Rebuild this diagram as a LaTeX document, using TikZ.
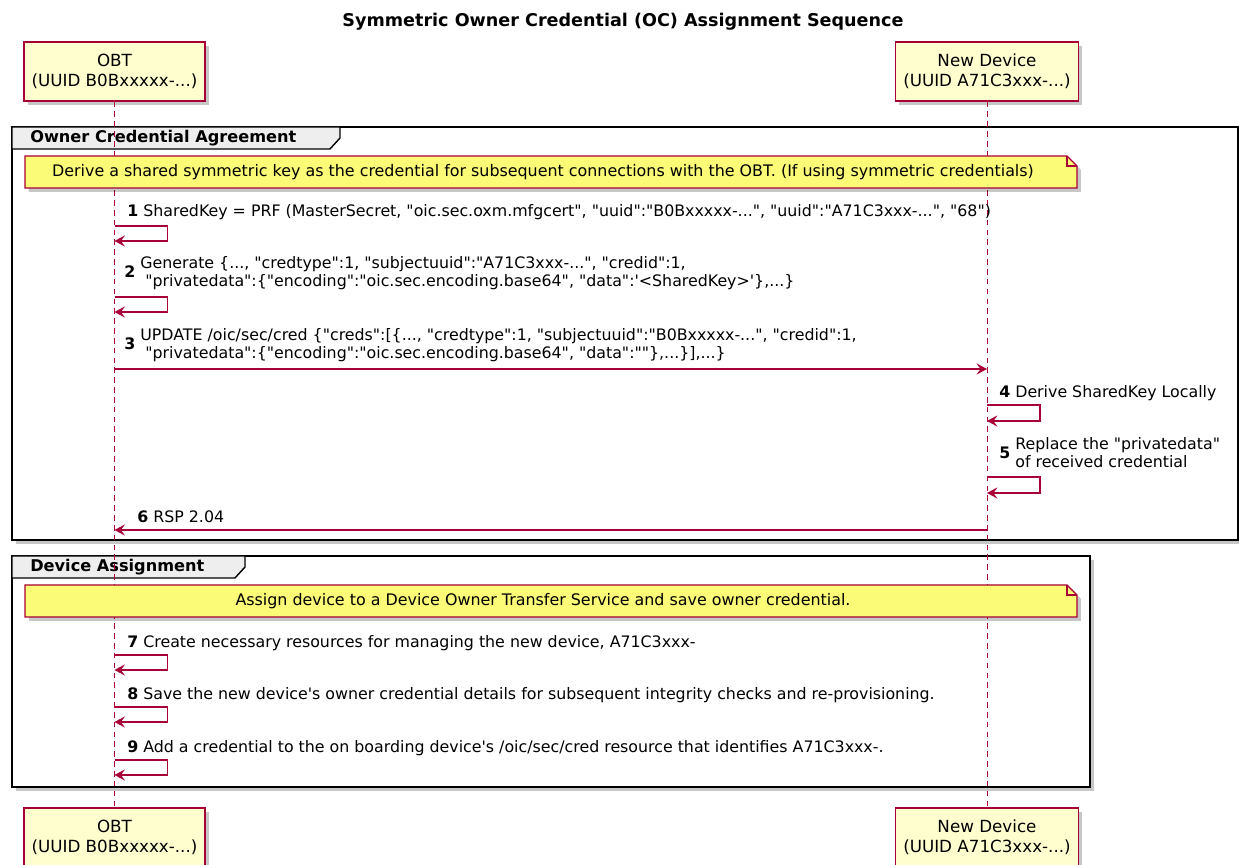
\documentclass[tikz,border=0pt]{standalone}
\usepackage{fontspec}
\setmainfont{DejaVu Sans}[Ligatures=TeXOff]
\usetikzlibrary{arrows.meta,shadows,positioning}

\definecolor{umlred}{HTML}{A80036}
\definecolor{partfill}{HTML}{FEFECE}
\definecolor{notefill}{HTML}{FBFB77}
\definecolor{tabfill}{HTML}{EEEEEE}

\tikzset{
  umlshadow/.style={drop shadow={shadow xshift=2.8pt,shadow yshift=-2.8pt,fill=black,opacity=0.22}},
  participant/.style={draw=umlred, fill=partfill, line width=0.9pt, minimum height=1.475cm,
    align=center, inner sep=0pt, font=\fontsize{11.9}{14.2}\selectfont, umlshadow},
  lifeline/.style={umlred, line width=0.7pt, dash pattern=on 4pt off 3pt},
  msg/.style={umlred, line width=0.8pt, -{Stealth[length=7.5pt,width=8pt,inset=3pt]}},
  msgtext/.style={anchor=west, inner sep=0pt, align=left, font=\fontsize{11.25}{12.8}\selectfont},
  frame/.style={draw=black, line width=1.5pt, fill=white, umlshadow},
  tabbox/.style={draw=black, line width=1pt, fill=tabfill},
  grouptext/.style={anchor=west, inner sep=0pt, font=\fontsize{11.5}{13}\selectfont\bfseries},
  notebox/.style={draw=umlred, line width=0.8pt, fill=notefill, umlshadow},
  notetext/.style={inner sep=0pt, font=\fontsize{11.3}{12.8}\selectfont},
  titletext/.style={inner sep=0pt, font=\fontsize{12.5}{14.2}\selectfont\bfseries}
}

\begin{document}
\begin{tikzpicture}[x=0.025cm, y=-0.025cm]
\useasboundingbox (0,0) rectangle (1239,865);

\node[titletext] (title) at (623,22) {Symmetric Owner Credential (OC) Assignment Sequence};

% groups
\draw[frame] (12,127) rectangle (1238,540);
\draw[tabbox] (12,127) -- (340,127) -- (340,138) -- (330,149) -- (12,149) -- cycle;
\node[grouptext] (grp1) at (30,138) {Owner Credential Agreement};

\draw[frame] (12,556) rectangle (1090,787);
\draw[tabbox] (12,556) -- (245,556) -- (245,567) -- (235,578) -- (12,578) -- cycle;
\node[grouptext] (grp2) at (30,567) {Device Assignment};

% participants
\node[participant, minimum width=4.525cm] (obt) at (114.5,71.5) {OBT\\(UUID B0Bxxxxx-...)};
\node[participant, minimum width=4.575cm] (dev) at (987,71.5) {New Device\\(UUID A71C3xxx-...)};
\node[participant, minimum width=4.525cm] (obtb) at (114.5,837.5) {OBT\\(UUID B0Bxxxxx-...)};
\node[participant, minimum width=4.575cm] (devb) at (987,837.5) {New Device\\(UUID A71C3xxx-...)};

\draw[lifeline] (obt) -- (obtb);
\draw[lifeline] (dev) -- (devb);

% notes
\foreach \ny in {156,585}
{
    \draw[notebox] (25,\ny) -- (1067,\ny) -- (1077,\fpeval{\ny+10}) -- (1077,\fpeval{\ny+32}) -- (25,\fpeval{\ny+32}) -- cycle;
    \draw[umlred, line width=0.8pt] (1067,\ny) |- (1077,\fpeval{\ny+10});
}
\node[notetext] (note1) at (543,172) {Derive a shared symmetric key as the credential for subsequent connections with the OBT. (If using symmetric credentials)};
\node[notetext] (note2) at (543,601) {Assign device to a Device Owner Transfer Service and save owner credential.};

% messages
\foreach \y in {226,297,655,707,760}
{
    \draw[msg] (obt |- 0,\y) -- ++(53,0) -- ++(0,15) -- ++(-53,0);
}
\foreach \y in {405,477}
{
    \draw[msg] (dev |- 0,\y) -- ++(53,0) -- ++(0,16) -- ++(-53,0);
}
\draw[msg] (obt |- 0,369) -- (dev |- 0,369);
\draw[msg] (dev |- 0,530) -- (obt |- 0,530);

\node[msgtext] (m1) at (127,212) {\textbf{1} SharedKey = PRF (MasterSecret, "oic.sec.oxm.mfgcert", "uuid":"B0Bxxxxx-...", "uuid":"A71C3xxx-...", "68")};
\node[msgtext] (m2) at (124,274) {\textbf{2} \begin{tabular}{@{}l@{}}Generate \{..., "credtype":1, "subjectuuid":"A71C3xxx-...", "credid":1,\\
\ "privatedata":\{"encoding":"oic.sec.encoding.base64", "data":'<SharedKey>'\},...\}\end{tabular}};
\node[msgtext] (m3) at (124,346) {\textbf{3} \begin{tabular}{@{}l@{}}UPDATE /oic/sec/cred \{"creds":[\{..., "credtype":1, "subjectuuid":"B0Bxxxxx-...", "credid":1,\\
\ "privatedata":\{"encoding":"oic.sec.encoding.base64", "data":""\},...\}],...\}\end{tabular}};
\node[msgtext] (m4) at (999,393) {\textbf{4} Derive SharedKey Locally};
\node[msgtext] (m5) at (999,455) {\textbf{5} \begin{tabular}{@{}l@{}}Replace the "privatedata"\\of received credential\end{tabular}};
\node[msgtext] (m6) at (137,517) {\textbf{6} RSP 2.04};
\node[msgtext] (m7) at (127,643) {\textbf{7} Create necessary resources for managing the new device, A71C3xxx-};
\node[msgtext] (m8) at (127,695) {\textbf{8} Save the new device's owner credential details for subsequent integrity checks and re-provisioning.};
\node[msgtext] (m9) at (127,748) {\textbf{9} Add a credential to the on boarding device's /oic/sec/cred resource that identifies A71C3xxx-.};

\end{tikzpicture}
\end{document}
